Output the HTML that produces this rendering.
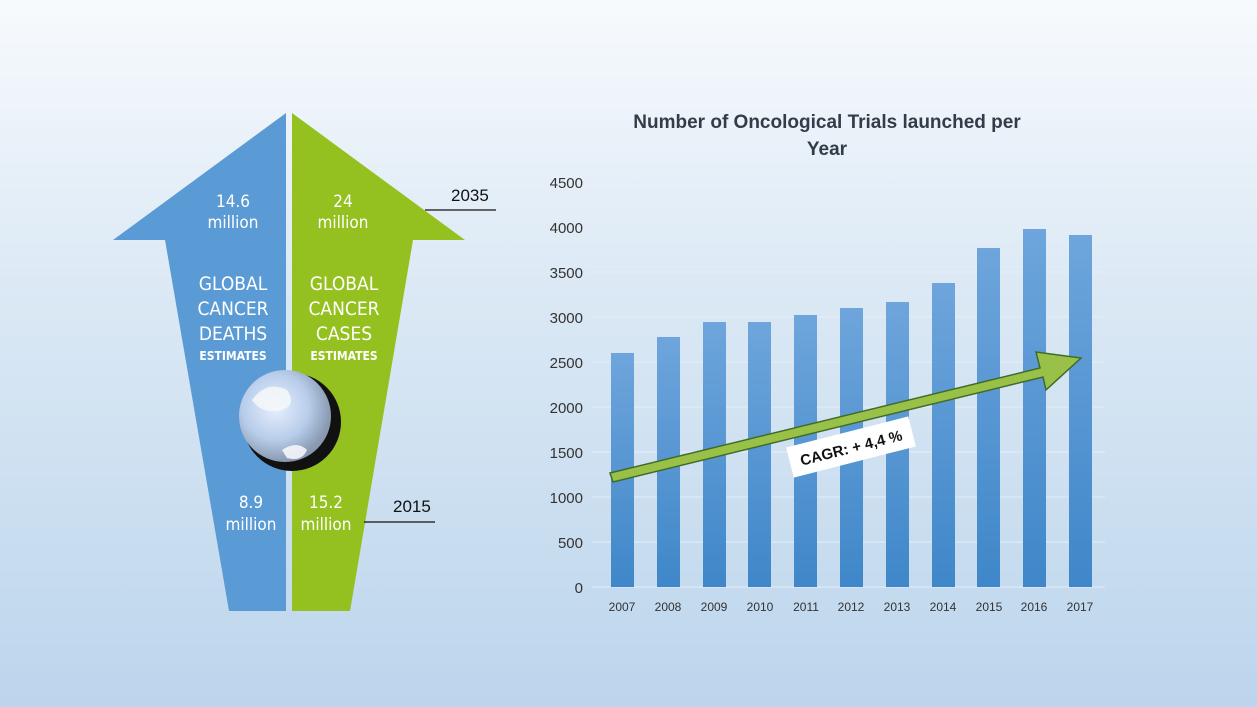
<!DOCTYPE html>
<html><head><style>
html,body{margin:0;padding:0}
body{width:1257px;height:707px;overflow:hidden;background:linear-gradient(180deg,#f7fafd 0%,#dce9f5 40%,#bcd5ec 100%);font-family:"Liberation Sans","DejaVu Sans",sans-serif}
</style></head><body>
<svg width="1257" height="707" xmlns="http://www.w3.org/2000/svg" style="position:absolute;left:0;top:0">
<defs>
<linearGradient id="bar" x1="0" y1="0" x2="0" y2="1"><stop offset="0" stop-color="#6ea5dc"/><stop offset="1" stop-color="#3f87c9"/></linearGradient>
<radialGradient id="globe" cx="0.4" cy="0.4" r="0.6"><stop offset="0" stop-color="#e8f0ff"/><stop offset="0.6" stop-color="#b8cdea"/><stop offset="1" stop-color="#8899b0"/></radialGradient>
</defs>
<polygon points="286,113 286,611 229,611 165,240 113,240" fill="#5b9bd5"/>
<polygon points="292,113 292,611 350,611 413,240 465,240" fill="#94c11f"/>
<circle cx="292" cy="422" r="49" fill="#111"/>
<circle cx="285" cy="416" r="46" fill="url(#globe)"/>
<path d="M252,400 q15,-20 35,-10 q10,15 -5,20 q-20,5 -30,-10z M282,450 q15,-10 25,0 q-5,12 -20,8z" fill="#f4f6fa" opacity="0.9"/>
<g fill="#fff" text-anchor="middle" font-size="17" font-family="'DejaVu Sans Condensed','Liberation Sans Narrow','Liberation Sans',sans-serif">
<text x="233" y="207">14.6</text><text x="233" y="228">million</text>
<text x="343" y="207">24</text><text x="343" y="228">million</text>
<text x="233" y="290" font-size="19">GLOBAL</text><text x="233" y="315" font-size="19">CANCER</text><text x="233" y="340" font-size="19">DEATHS</text>
<text x="233" y="360" font-size="12" font-weight="bold">ESTIMATES</text>
<text x="344" y="290" font-size="19">GLOBAL</text><text x="344" y="315" font-size="19">CANCER</text><text x="344" y="340" font-size="19">CASES</text>
<text x="344" y="360" font-size="12" font-weight="bold">ESTIMATES</text>
<text x="251" y="508">8.9</text><text x="251" y="530">million</text>
<text x="326" y="508">15.2</text><text x="326" y="530">million</text>
</g>
<g font-size="17" fill="#111"><text x="451" y="201">2035</text><text x="393" y="512">2015</text></g>
<line x1="425" y1="210" x2="496" y2="210" stroke="#111" stroke-width="1.3"/>
<line x1="364" y1="522" x2="435" y2="522" stroke="#111" stroke-width="1.3"/>
<g font-size="19" font-weight="bold" fill="#333d4a" text-anchor="middle">
<text x="827" y="128">Number of Oncological Trials launched per</text>
<text x="827" y="155">Year</text></g>
<g stroke="#e4eef8" stroke-width="1">
<line x1="592" x2="1105" y1="182" y2="182"/><line x1="592" x2="1105" y1="227" y2="227"/><line x1="592" x2="1105" y1="272" y2="272"/><line x1="592" x2="1105" y1="317" y2="317"/><line x1="592" x2="1105" y1="362" y2="362"/><line x1="592" x2="1105" y1="407" y2="407"/><line x1="592" x2="1105" y1="452" y2="452"/><line x1="592" x2="1105" y1="497" y2="497"/><line x1="592" x2="1105" y1="542" y2="542"/><line x1="592" x2="1105" y1="587" y2="587"/>
</g>
<g font-size="15" fill="#333" text-anchor="end">
<text x="583" y="188">4500</text><text x="583" y="233">4000</text><text x="583" y="278">3500</text><text x="583" y="323">3000</text><text x="583" y="368">2500</text><text x="583" y="413">2000</text><text x="583" y="458">1500</text><text x="583" y="503">1000</text><text x="583" y="548">500</text><text x="583" y="593">0</text>
</g>
<g fill="url(#bar)">
<rect x="611" y="353" width="23" height="234"/>
<rect x="657" y="337" width="23" height="250"/>
<rect x="703" y="322" width="23" height="265"/>
<rect x="748" y="322" width="23" height="265"/>
<rect x="794" y="315" width="23" height="272"/>
<rect x="840" y="308" width="23" height="279"/>
<rect x="886" y="302" width="23" height="285"/>
<rect x="932" y="283" width="23" height="304"/>
<rect x="977" y="248" width="23" height="339"/>
<rect x="1023" y="229" width="23" height="358"/>
<rect x="1069" y="235" width="23" height="352"/>
</g>
<g font-size="12" fill="#333" text-anchor="middle">
<text x="622" y="611">2007</text><text x="668" y="611">2008</text><text x="714" y="611">2009</text><text x="760" y="611">2010</text><text x="806" y="611">2011</text><text x="851" y="611">2012</text><text x="897" y="611">2013</text><text x="943" y="611">2014</text><text x="989" y="611">2015</text><text x="1034" y="611">2016</text><text x="1080" y="611">2017</text>
</g>
<polygon points="610,473 1040,368 1036,352 1081,358 1046,390 1043,377 613,482" fill="#9ac147" stroke="#3f6b2a" stroke-width="1.5"/>
<g transform="translate(851,447) rotate(-14.3)">
<rect x="-63" y="-15.5" width="126" height="31" fill="#fff"/>
<text x="0" y="6" text-anchor="middle" font-size="15" font-weight="bold" fill="#111">CAGR: + 4,4 %</text>
</g>
</svg>
</body></html>
